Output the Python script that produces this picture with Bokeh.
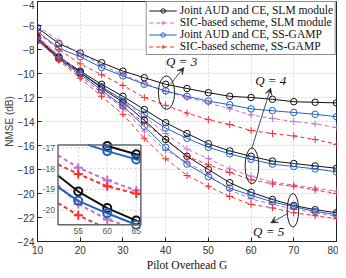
import numpy as np
from bokeh.plotting import figure
from bokeh.models import Range1d, Legend, LegendItem, Arrow, VeeHead, FixedTicker, Title
from bokeh.core.properties import value
from bokeh.embed import file_html
from bokeh.resources import INLINE

# ---------------- data ----------------
G = [10, 15, 20, 25, 30, 35, 40, 45, 50, 55, 60, 65, 70, 75, 80]

joint_slm_q3 = [-6.2, -7.5, -8.3, -9.1, -9.8, -10.35, -10.9, -11.25, -11.6, -11.9, -12.0, -12.15, -12.35, -12.4, -12.45]
sic_slm_q3   = [-6.0, -7.3, -8.35, -9.3, -10.1, -10.8, -11.5, -12.0, -12.45, -12.95, -13.45, -13.75, -14.0, -14.2, -14.5]
joint_gamp_q3 = [-6.5, -7.9, -8.6, -9.5, -10.2, -10.9, -11.45, -11.9, -12.3, -12.6, -12.95, -13.1, -13.25, -13.4, -13.6]
sic_gamp_q3  = [-6.6, -8.0, -9.2, -10.1, -11.0, -12.0, -12.65, -13.3, -13.85, -14.25, -14.75, -15.0, -15.2, -15.5, -15.9]

joint_slm_q4 = [-7.0, -8.6, -9.8, -10.9, -11.9, -13.0, -14.1, -15.0, -15.85, -16.45, -16.9, -17.3, -17.5, -17.7, -17.9]
sic_slm_q4   = [-6.9, -8.5, -9.9, -11.1, -12.3, -13.6, -15.0, -16.3, -17.1, -17.95, -18.55, -19.05, -19.3, -19.55, -19.8]
joint_gamp_q4 = [-7.2, -8.7, -9.95, -11.1, -12.2, -13.4, -14.55, -15.4, -16.15, -16.7, -17.15, -17.55, -17.75, -17.95, -18.2]
sic_gamp_q4  = [-7.1, -8.8, -10.2, -11.6, -12.8, -14.1, -15.5, -16.9, -17.6, -18.25, -18.85, -19.2, -19.4, -19.7, -20.0]

joint_slm_q5 = [-7.1, -8.7, -9.9, -11.2, -12.4, -13.9, -15.5, -16.9, -18.0, -19.1, -19.9, -20.5, -21.0, -21.35, -21.6]
sic_slm_q5   = [-7.0, -8.6, -10.0, -11.4, -12.9, -14.8, -16.4, -17.4, -18.4, -19.7, -20.45, -20.9, -21.3, -21.6, -21.9]
joint_gamp_q5 = [-7.25, -8.8, -10.05, -11.4, -12.7, -14.4, -16.15, -17.55, -18.6, -19.55, -20.15, -20.7, -21.1, -21.5, -21.75]
sic_gamp_q5  = [-7.2, -8.9, -10.4, -11.9, -13.4, -15.4, -17.1, -18.5, -19.4, -20.25, -20.9, -21.2, -21.6, -21.85, -22.1]

legend_labels = ["Joint AUD and CE, SLM module", "SIC-based scheme, SLM module",
                 "Joint AUD and CE, SS-GAMP", "SIC-based scheme, SS-GAMP"]
x_ticks = [10, 20, 30, 40, 50, 60, 70, 80]
y_ticks = [-24, -22, -20, -18, -16, -14, -12, -10, -8, -6, -4]
inset_x_ticks = [55, 60, 65]
inset_y_ticks = [-20, -19, -18, -17]
q_texts = ["Q = 3", "Q = 4", "Q = 5"]

# ---------------- styles ----------------
BLACK, PURPLE, BLUE, RED = "#111111", "#c46fcc", "#2462c0", "#ff2b2b"
styles = [
    dict(color=BLACK, dash="solid", marker="circle"),
    dict(color=PURPLE, dash="4 3", marker="cross"),
    dict(color=BLUE, dash="solid", marker="circle"),
    dict(color=RED, dash="4 3", marker="cross"),
]
groups = [
    [joint_slm_q3, sic_slm_q3, joint_gamp_q3, sic_gamp_q3],
    [joint_slm_q4, sic_slm_q4, joint_gamp_q4, sic_gamp_q4],
    [joint_slm_q5, sic_slm_q5, joint_gamp_q5, sic_gamp_q5],
]
SANS = "Liberation Sans"
SERIF = "Liberation Serif"

p = figure(width=338, height=270, output_backend="svg", toolbar_location=None,
           x_range=Range1d(10, 80), y_range=Range1d(-24, -4),
           min_border_left=2, min_border_right=2, min_border_top=1, min_border_bottom=0)
p.background_fill_color = "white"
p.border_fill_color = "white"
p.outline_line_color = "#222222"
p.outline_line_width = 1

for ax in (p.xaxis[0], p.yaxis[0]):
    ax.major_tick_in = 4
    ax.major_tick_out = 0
    ax.minor_tick_in = 0
    ax.minor_tick_out = 0
    ax.minor_tick_line_color = None
    ax.axis_line_color = "#222222"
    ax.major_tick_line_color = "#222222"
    ax.major_label_text_font = SANS
    ax.major_label_text_font_size = "10px"
    ax.major_label_text_color = "#333333"
    ax.major_label_text_line_height = 1.0
    ax.axis_label_text_line_height = 1.0
p.yaxis.major_label_standoff = 3
p.xaxis.major_label_standoff = 4
p.xaxis.ticker = FixedTicker(ticks=x_ticks)
p.yaxis.ticker = FixedTicker(ticks=y_ticks)
p.yaxis.axis_label = "NMSE (dB)"
p.yaxis.axis_label_text_font = SANS
p.yaxis.axis_label_text_font_style = "normal"
p.yaxis.axis_label_text_font_size = "10px"
p.yaxis.axis_label_standoff = 0

# x-axis title placed below the tick labels
p.add_layout(Title(text="Pilot Overhead G", align="center", text_font=SERIF,
                   text_font_size="11.5px", text_font_style="normal", text_color="#111111",
                   standoff=0, offset=0, text_line_height=1.0), "below")

p.xgrid.ticker = FixedTicker(ticks=x_ticks)
p.ygrid.ticker = FixedTicker(ticks=y_ticks)
for g in (p.xgrid[0], p.ygrid[0]):
    g.grid_line_color = "#d4d4d4"
    g.grid_line_dash = "2 2"
    g.grid_line_width = 1

legend_renderers = []
for qi, grp in enumerate(groups):
    for si, ys in enumerate(grp):
        st = styles[si]
        lr = p.line(G, ys, line_color=st["color"], line_dash=st["dash"], line_width=1)
        sr = p.scatter(G, ys, marker=st["marker"], size=6.5 if st["marker"] == "circle" else 7,
                       line_color=st["color"], fill_color=None, line_width=1)
        if qi == 0:
            legend_renderers.append([lr, sr])

# ---------------- inset ----------------
INSET_X = (51.5, 65.8)
INSET_Y = (-20.7, -16.85)
sub = p.subplot(x_source=Range1d(*INSET_X), y_source=Range1d(*INSET_Y),
                x_target=Range1d(14.8, 34.2), y_target=Range1d(-22.6, -15.95))


def clip_polyline(xs, ys, x0, x1, y0, y1):
    segs = []
    cx, cy = [], []
    for i in range(len(xs) - 1):
        ax_, ay_, bx_, by_ = xs[i], ys[i], xs[i + 1], ys[i + 1]
        dx, dy = bx_ - ax_, by_ - ay_
        t0, t1 = 0.0, 1.0
        ok = True
        for pp, qq in ((-dx, ax_ - x0), (dx, x1 - ax_), (-dy, ay_ - y0), (dy, y1 - ay_)):
            if pp == 0:
                if qq < 0:
                    ok = False
                    break
            else:
                r = qq / pp
                if pp < 0:
                    if r > t1:
                        ok = False
                        break
                    t0 = max(t0, r)
                else:
                    if r < t0:
                        ok = False
                        break
                    t1 = min(t1, r)
        if not ok:
            if cx:
                segs.append((cx, cy))
                cx, cy = [], []
            continue
        sx, sy = ax_ + t0 * dx, ay_ + t0 * dy
        ex, ey = ax_ + t1 * dx, ay_ + t1 * dy
        if cx and (abs(cx[-1] - sx) > 1e-9 or abs(cy[-1] - sy) > 1e-9):
            segs.append((cx, cy))
            cx, cy = [], []
        if not cx:
            cx, cy = [sx], [sy]
        cx.append(ex)
        cy.append(ey)
    if cx:
        segs.append((cx, cy))
    return segs


sub.quad(left=[INSET_X[0]], right=[INSET_X[1]], bottom=[INSET_Y[0]], top=[INSET_Y[1]],
         fill_color="white", line_color=None)
sub.multi_line(xs=[[t, t] for t in inset_x_ticks], ys=[list(INSET_Y) for _ in inset_x_ticks],
               line_color="#d4d4d4", line_dash="2 2", line_width=1)
sub.multi_line(xs=[list(INSET_X) for _ in inset_y_ticks], ys=[[t, t] for t in inset_y_ticks],
               line_color="#d4d4d4", line_dash="2 2", line_width=1)

for grp in groups:
    for si, ys in enumerate(grp):
        st = styles[si]
        segs = clip_polyline(G, ys, INSET_X[0], INSET_X[1], INSET_Y[0], INSET_Y[1])
        if segs:
            sub.multi_line(xs=[s[0] for s in segs], ys=[s[1] for s in segs],
                           line_color=st["color"], line_dash=st["dash"], line_width=2)
        inside = [(x, y) for x, y in zip(G, ys)
                  if INSET_X[0] <= x <= INSET_X[1] and INSET_Y[0] <= y <= INSET_Y[1]]
        if inside:
            sub.scatter([a for a, b in inside], [b for a, b in inside], marker=st["marker"],
                        size=8 if st["marker"] == "circle" else 9,
                        line_color=st["color"], fill_color=None, line_width=2)

sub.quad(left=[INSET_X[0]], right=[INSET_X[1]], bottom=[INSET_Y[0]], top=[INSET_Y[1]],
         fill_color=None, line_color="#666666", line_width=1.5)
sub.text(x=inset_x_ticks, y=[INSET_Y[0]] * len(inset_x_ticks), text=[str(t) for t in inset_x_ticks],
         text_align="center", text_baseline="top", y_offset=3,
         text_font=value(SANS), text_font_size="8.5px", text_color="#555555")
sub.text(x=[INSET_X[0]] * len(inset_y_ticks), y=inset_y_ticks, text=[str(t) for t in inset_y_ticks],
         text_align="right", text_baseline="middle", x_offset=-3,
         text_font=value(SANS), text_font_size="8.5px", text_color="#555555")

# ---------------- annotations ----------------
p.ellipse(x=[40.2, 60.2, 69.8], y=[-11.6, -17.7, -21.4], width=[3.8, 3.2, 2.7], height=[2.8, 3.0, 2.8],
          fill_color=None, line_color="#222222", line_width=1)
for (xs_, ys_, xe_, ye_) in [(41.1, -10.9, 44.3, -9.5), (60.2, -16.2, 64.6, -11.2), (68.4, -21.7, 64.6, -22.45)]:
    p.add_layout(Arrow(x_start=xs_, y_start=ys_, x_end=xe_, y_end=ye_, line_width=0.8, line_color="#222222",
                       end=VeeHead(size=7, fill_color="#222222", line_color="#222222", line_width=0.5)))
p.text(x=[43.75, 64.6, 64.1], y=[-9.0, -10.6, -23.2], text=q_texts,
       text_align="center", text_baseline="middle", text_font=value(SERIF),
       text_font_size="13px", text_font_style="italic", text_color="#111111")

legend = Legend(items=[LegendItem(label=lab, renderers=r) for lab, r in zip(legend_labels, legend_renderers)],
                location="top_right", margin=0, padding=2, spacing=0,
                glyph_width=28, glyph_height=11, label_height=11, label_standoff=3,
                label_text_font=SERIF, label_text_font_size="11.5px", label_text_color="#111111",
                label_text_line_height=1.0,
                border_line_color="#222222", border_line_width=1, background_fill_alpha=1)
p.add_layout(legend)

open("out.html", "w").write(file_html(p, INLINE))
